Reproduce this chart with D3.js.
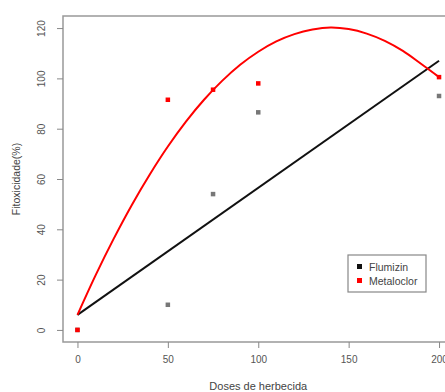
<!DOCTYPE html>
<html>
<head>
<meta charset="utf-8">
<script src="https://cdn.jsdelivr.net/npm/d3@7"></script>
<style>
body { margin: 0; background: #fff; }
svg { display: block; font-family: "Liberation Sans", Arial, sans-serif; }
</style>
</head>
<body>
<div id="chart"></div>
<script>
var doses = [0, 50, 75, 100, 200];
var flumizin = [0, 10, 54, 86.5, 93];
var metaloclor = [0, 91.5, 95.5, 98, 100.5];

// fitted lines
var lineDoses = [0, 200];
var lineFlumizin = [6, 107];
var curveDoses = [0, 10, 20, 30, 40, 50, 60, 70, 80, 90, 100, 110, 120, 130, 140, 150, 160, 170, 180, 190, 200];
var curveMetaloclor = [6, 21.7, 36.2, 49.6, 61.8, 72.9, 82.8, 91.5, 99, 105.4, 110.6, 114.7, 117.6, 119.4, 120.2, 119.6, 117.8, 114.9, 110.9, 105.8, 100.5];

var xTicks = [0, 50, 100, 150, 200];
var yTicks = [0, 20, 40, 60, 80, 100, 120];
var seriesNames = ['Flumizin', 'Metaloclor'];
var seriesColors = ['#111', '#f00'];

var width = 445, height = 392;
var plot = {left: 63, right: 453.5, top: 16, bottom: 342};

var x = d3.scaleLinear().domain([-8, 208]).range([plot.left, plot.right]);
var y = d3.scaleLinear().domain([-4.8, 124.8]).range([plot.bottom, plot.top]);

var svg = d3.select('#chart').append('svg')
	.attr('width', width)
	.attr('height', height);

// frame
svg.append('rect')
	.attr('x', plot.left)
	.attr('y', plot.top)
	.attr('width', plot.right - plot.left)
	.attr('height', plot.bottom - plot.top)
	.style('fill', 'none')
	.style('stroke', '#999')
	.style('stroke-width', 1.5);

var haxis = d3.axisBottom(x).tickValues(xTicks).tickSize(6).tickPadding(8).tickSizeOuter(0);
var hguide = svg.append('g').attr('transform', 'translate(0,' + plot.bottom + ')');
haxis(hguide);
hguide.select('.domain').remove();
hguide.selectAll('line').style('stroke', '#888');
hguide.selectAll('text').style('fill', '#555').style('font-size', '10px');

var vaxis = d3.axisLeft(y).tickValues(yTicks).tickSize(6).tickSizeOuter(0);
var vguide = svg.append('g').attr('transform', 'translate(' + plot.left + ',0)');
vaxis(vguide);
vguide.select('.domain').remove();
vguide.selectAll('line').style('stroke', '#888');
vguide.selectAll('text')
	.style('fill', '#555')
	.style('font-size', '10px')
	.attr('x', 0)
	.attr('dy', 0)
	.attr('text-anchor', 'middle')
	.attr('transform', 'translate(-18,0) rotate(-90)');

svg.append('text')
	.attr('x', (plot.left + plot.right) / 2)
	.attr('y', 390)
	.attr('text-anchor', 'middle')
	.style('font-size', '11px')
	.style('fill', '#444')
	.text('Doses de herbecida');

svg.append('text')
	.attr('transform', 'translate(20,' + ((plot.top + plot.bottom) / 2) + ') rotate(-90)')
	.attr('text-anchor', 'middle')
	.style('font-size', '10.5px')
	.style('fill', '#444')
	.text('Fitoxicidade(%)');

// black fitted line
var line = d3.line()
	.x(function(d) { return x(d[0]); })
	.y(function(d) { return y(d[1]); });

svg.append('path')
	.datum(d3.zip(lineDoses, lineFlumizin))
	.attr('d', line)
	.style('fill', 'none')
	.style('stroke', '#111')
	.style('stroke-width', 2);

svg.append('path')
	.datum(d3.zip(curveDoses, curveMetaloclor))
	.attr('d', line.curve(d3.curveCatmullRom))
	.style('fill', 'none')
	.style('stroke', '#f00')
	.style('stroke-width', 2);

// points
var s = 4.5;
svg.selectAll('rect.flu').data(d3.zip(doses, flumizin))
	.enter().append('rect')
	.attr('class', 'flu')
	.attr('x', function(d) { return x(d[0]) - s / 2; })
	.attr('y', function(d) { return y(d[1]) - s / 2; })
	.attr('width', s)
	.attr('height', s)
	.style('fill', '#777');

svg.selectAll('rect.met').data(d3.zip(doses, metaloclor))
	.enter().append('rect')
	.attr('class', 'met')
	.attr('x', function(d) { return x(d[0]) - s / 2; })
	.attr('y', function(d) { return y(d[1]) - s / 2; })
	.attr('width', s)
	.attr('height', s)
	.style('fill', '#f00');

// legend
var legend = svg.append('g').attr('transform', 'translate(348,255)');
legend.append('rect')
	.attr('width', 78)
	.attr('height', 37)
	.style('fill', '#fff')
	.style('stroke', '#888')
	.style('stroke-width', 1.2);
seriesNames.forEach(function(name, i) {
	legend.append('rect')
		.attr('x', 9)
		.attr('y', 9 + i * 14)
		.attr('width', 5)
		.attr('height', 5)
		.style('fill', seriesColors[i]);
	legend.append('text')
		.attr('x', 21)
		.attr('y', 15.5 + i * 14)
		.style('font-size', '10.5px')
		.style('fill', '#444')
		.text(name);
});
</script>
</body>
</html>
